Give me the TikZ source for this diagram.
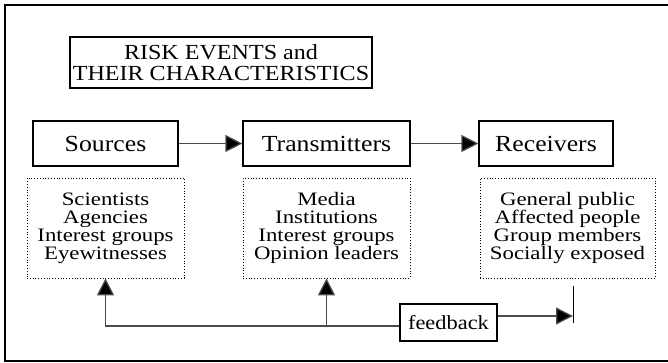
\documentclass[tikz,border=0pt]{standalone}
\usepackage{fontspec}
\setmainfont{Liberation Serif}[FakeStretch=1.12]
\newfontfamily\listfont{Liberation Serif}[FakeStretch=1.2]
\usetikzlibrary{arrows.meta}
\begin{document}
\begin{tikzpicture}[x=1pt,y=-1pt,
  titlebox/.style={draw, line width=1.1pt, inner sep=0pt, align=center, minimum width=302pt, minimum height=51pt, font=\fontsize{21.5}{20.5}\selectfont},
  box/.style={draw, line width=1.2pt, inner sep=0pt, minimum height=45pt, font=\fontsize{23}{24}\selectfont},
  list/.style={draw, dotted, line width=0.8pt, inner sep=0pt, align=center, minimum height=100pt, font=\listfont\fontsize{19}{18}\selectfont},
  fbbox/.style={draw, line width=1.2pt, inner sep=0pt, minimum width=97pt, minimum height=37pt, font=\fontsize{20}{22}\selectfont},
  conn/.style={line width=1.3pt, draw=black!70, -{Triangle[length=17pt,width=17pt,fill=black]}},
  frame/.style={line width=1.2pt}]
\useasboundingbox (0,0) rectangle (668,362);
\coordinate (ftr) at (670,5);
\coordinate (fbr) at (670,361);
\coordinate (ftl) at (5,5);
\coordinate (fbl) at (5,361);
\draw[frame] (ftr) -- (ftl) -- (fbl) -- (fbr);

\node[titlebox] (title) at (221,62.5) {RISK EVENTS and\\THEIR CHARACTERISTICS};

\node[box, minimum width=145pt] (src) at (105.5,143.5) {Sources};
\node[box, minimum width=167pt] (trn) at (326.5,143.5) {Transmitters};
\node[box, minimum width=134pt] (rcv) at (546,143.5) {Receivers};

\node[list, minimum width=157pt] (srcl) at (105.5,228) {Scientists\\Agencies\\Interest groups\\Eyewitnesses};
\node[list, minimum width=167pt] (trnl) at (326.5,228) {Media\\Institutions\\Interest groups\\Opinion leaders};
\node[list, minimum width=175pt] (rcvl) at (567.5,228) {General public\\Affected people\\Group members\\Socially exposed};

\draw[conn] (src.east) -- (trn.west);
\draw[conn] (trn.east) -- (rcv.west);

\node[fbbox] (fb) at (448.5,322.5) {feedback};
\coordinate (j) at ([yshift=-3.5pt]fb.west);
\draw[conn] (j) -| (srcl.south);
\draw[conn] (j -| trnl.south) -- (trnl.south);

\coordinate (bt) at (573,286);
\coordinate (bb) at (573,323);
\draw[line width=1pt] (bt) -- (bb);
\coordinate (fo) at ([yshift=6.5pt]fb.east);
\draw[conn] (fo) -- (fo -| bt);
\end{tikzpicture}
\end{document}
